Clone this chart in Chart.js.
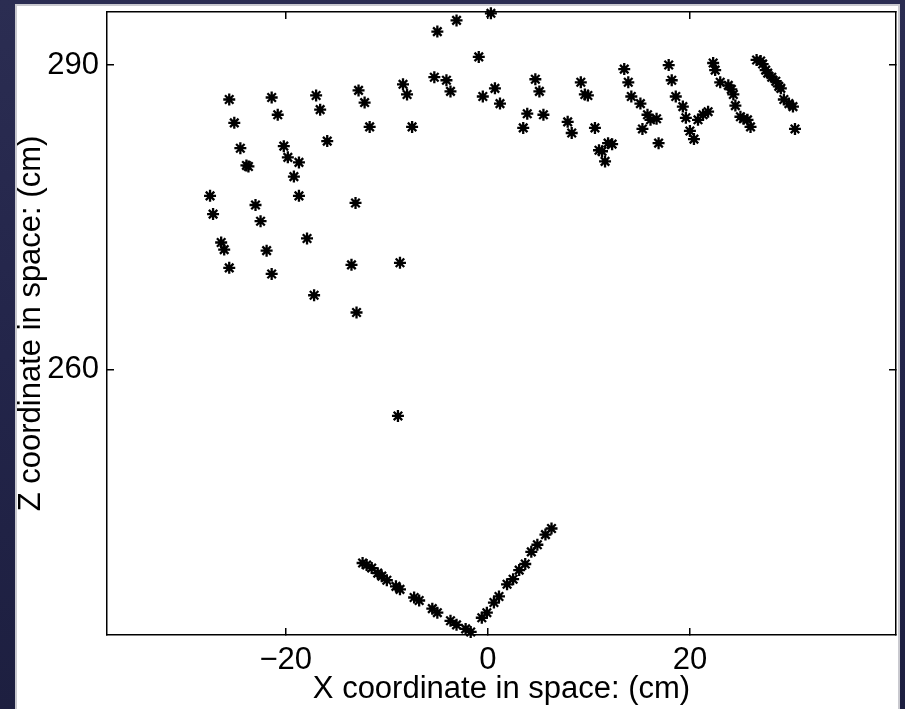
<!DOCTYPE html>
<html>
<head>
<meta charset="utf-8">
<script src="https://cdn.jsdelivr.net/npm/chart.js@4"></script>
<style>
  html, body { margin: 0; padding: 0; width: 905px; height: 709px; overflow: hidden;
    background: linear-gradient(180deg, #2b2d52 0%, #23254a 50%, #1d1f40 100%); }
  #sheet { position: absolute; left: 15px; top: 4px; width: 881px; height: 710px;
    background: #ffffff; border: 2px solid #c9c9cf; border-bottom: none; }
  #c { position: absolute; left: 0; top: 0; }
</style>
</head>
<body>
<div id="sheet"></div>
<canvas id="c" width="905" height="709"></canvas>
<script>
// ---- data (cm) ----
const upperX = [-25.6,-25.1,-24.5,-23.9,-23.7,-27.5,-27.2,-26.4,-26.1,-25.6,
  -21.4,-20.8,-20.2,-19.8,-18.7,-19.2,-18.7,-23.0,-22.5,-21.9,-21.4,
  -17.0,-16.6,-15.9,-17.9,-17.2,-12.8,-12.2,-11.7,-13.1,-13.5,-13.0,-8.7,-8.9,
  0.3,-3.1,-5.0,-0.9,-8.4,-8.0,-7.5,-5.3,-4.1,-3.7,-0.5,0.7,1.2,
  4.7,5.1,3.9,5.5,3.5,9.2,9.6,9.9,7.9,8.3,10.6,11.0,11.9,12.3,11.3,11.6,
  13.5,13.9,14.2,15.1,15.8,16.1,16.7,15.3,16.9,
  17.9,18.2,18.6,19.3,19.6,20.0,20.4,20.8,21.3,21.8,
  22.3,22.5,23.0,23.8,24.1,24.3,24.5,25.0,25.3,25.7,26.0,
  26.6,27.0,27.2,27.5,27.7,28.1,28.5,28.8,29.0,29.3,29.8,30.2,30.4];
const upperZ = [286.6,284.3,281.8,280.1,280.0,277.1,275.3,272.5,271.8,270.0,
  286.8,285.1,282.0,280.9,280.4,279.0,277.1,276.2,274.6,271.7,269.4,
  287.0,285.6,282.5,272.9,267.3,287.5,286.3,283.9,276.4,270.3,265.6,270.5,255.4,
  295.1,294.4,293.3,290.8,288.1,287.1,283.9,288.8,288.5,287.4,286.9,287.7,286.2,
  288.6,287.4,285.2,285.1,283.8,288.3,287.1,287.0,284.4,283.3,283.8,281.6,282.3,282.2,281.5,280.5,
  289.6,288.3,286.9,286.2,285.1,284.6,284.7,283.7,282.3,
  290.0,288.5,286.9,285.9,284.8,283.5,282.7,284.6,285.1,285.4,
  290.2,289.5,288.3,288.0,287.6,287.1,286.0,284.9,284.7,284.6,283.9,
  290.5,290.4,290.1,289.5,289.2,288.8,288.4,287.9,287.7,286.6,286.2,285.9,283.7];
const vLeftX = [-12.4,-12.0,-11.5,-10.9,-10.5,-10.0,-9.1,-8.7,-7.3,-6.8,-5.5,-5.0,-3.7,-3.1,-2.2,-1.7];
const vLeftZ = [240.9,240.7,240.4,239.9,239.6,239.2,238.6,238.3,237.5,237.2,236.4,236.0,235.2,234.8,234.4,234.1];
const vRightX = [-0.6,-0.1,0.6,1.1,1.9,2.5,3.1,3.7,4.3,4.9,5.7,6.3];
const vRightZ = [235.5,236.0,237.0,237.6,238.8,239.3,240.2,240.8,242.0,242.7,243.7,244.3];
const xTickValues = [-20, 0, 20];
const yTickValues = [260, 290];
const xLimits = [-37.7, 40.4];
const yLimits = [233.8, 295.23];
const xTitle = 'X coordinate in space: (cm)';
const yTitle = 'Z coordinate in space: (cm)';

const pts = (xs, ys) => xs.map((x, i) => ({ x: x, y: ys[i] }));
const fmt = v => (v < 0 ? '\u2212' + Math.abs(v) : String(v));
const FONT = { family: '"Liberation Sans", Arial, Helvetica, sans-serif', size: 31 };
const markerStyle = { pointStyle: 'star', pointRadius: 6, pointBorderWidth: 2.3,
  borderColor: '#000', backgroundColor: '#000', pointBorderColor: '#000',
  pointBackgroundColor: '#000', showLine: false, clip: false };

const gridOpts = { display: true, drawOnChartArea: false, drawTicks: true, tickLength: -7,
  color: '#000', lineWidth: 1.5 };
const borderOpts = { display: true, color: '#000', width: 1.5 };
const noPad = s => { s.paddingTop = 0; s.paddingBottom = 0; s.paddingLeft = 0; s.paddingRight = 0; };

new Chart(document.getElementById('c'), {
  type: 'scatter',
  data: { datasets: [
    Object.assign({ label: 'upper', data: pts(upperX, upperZ) }, markerStyle),
    Object.assign({ label: 'left arm', data: pts(vLeftX, vLeftZ) }, markerStyle),
    Object.assign({ label: 'right arm', data: pts(vRightX, vRightZ) }, markerStyle)
  ]},
  options: {
    responsive: false, animation: false, devicePixelRatio: 1,
    layout: { padding: { left: 0, right: 9, top: 12, bottom: 0 } },
    plugins: { legend: { display: false }, tooltip: { enabled: false } },
    scales: {
      x: { type: 'linear', position: 'bottom', min: xLimits[0], max: xLimits[1],
        afterBuildTicks: s => { s.ticks = xTickValues.map(v => ({ value: v })); },
        ticks: { font: FONT, color: '#000', padding: 14, maxRotation: 0, autoSkip: false, callback: fmt },
        grid: gridOpts, border: borderOpts,
        title: { display: true, text: xTitle, font: FONT, color: '#000', padding: { top: 0, bottom: 1 } },
        afterFit: s => { s.height = 74; noPad(s); } },
      x2: { type: 'linear', position: 'top', min: xLimits[0], max: xLimits[1],
        afterBuildTicks: s => { s.ticks = xTickValues.map(v => ({ value: v })); },
        ticks: { display: false }, grid: gridOpts, border: borderOpts,
        afterFit: s => { s.height = 0; noPad(s); } },
      y: { type: 'linear', position: 'left', min: yLimits[0], max: yLimits[1],
        afterBuildTicks: s => { s.ticks = yTickValues.map(v => ({ value: v })); },
        ticks: { font: FONT, color: '#000', padding: 15, autoSkip: false, callback: fmt },
        grid: gridOpts, border: borderOpts,
        title: { display: true, text: yTitle, font: FONT, color: '#000', padding: { top: 13, bottom: 0 } },
        afterFit: s => { s.width = 107; noPad(s); } },
      y2: { type: 'linear', position: 'right', min: yLimits[0], max: yLimits[1],
        afterBuildTicks: s => { s.ticks = yTickValues.map(v => ({ value: v })); },
        ticks: { display: false }, grid: gridOpts, border: borderOpts,
        afterFit: s => { s.width = 0; noPad(s); } }
    }
  }
});
</script>
</body>
</html>
